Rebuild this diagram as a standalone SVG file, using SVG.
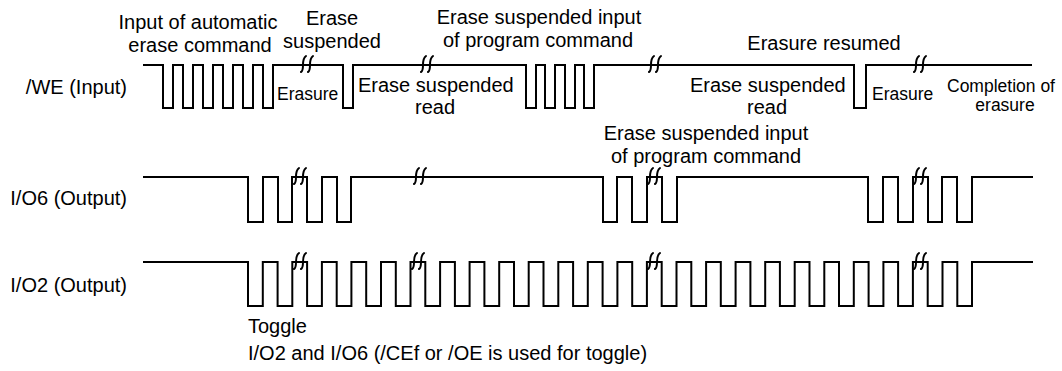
<svg xmlns="http://www.w3.org/2000/svg" xmlns:xlink="http://www.w3.org/1999/xlink" width="1062" height="371" viewBox="0 0 1062 371">
<style>
text{font-family:"Liberation Sans",Arial,sans-serif;fill:#000}
.b{font-size:20px}
.s{font-size:17.5px}
.m{text-anchor:middle}
.e{text-anchor:end}
.w{fill:none;stroke:#000;stroke-width:2;stroke-linejoin:miter}
.k{fill:none;stroke:#000;stroke-width:2;stroke-linecap:round}
</style>
<defs>
<g id="brk">
<path class="k" d="M-6,8 Q-4,7 -4,1 Q-4,-6 -1,-8"/>
<path class="k" d="M1,8 Q3,7 3,1 Q3,-6 6,-8"/>
</g>
</defs>
<rect width="1062" height="371" fill="#fff"/>
<g id="labels-left">
<text class="b e" x="127" y="94">/WE (Input)</text>
<text class="b e" x="127" y="205">I/O6 (Output)</text>
<text class="b e" x="127" y="292">I/O2 (Output)</text>
</g>
<g id="we-signal">
<path class="w" d="M143,65 H163 V108 H173 V65 H183 V108 H193 V65 H203 V108 H213 V65 H223 V108 H233 V65 H243 V108 H253 V65 H263 V108 H273 V65 H343 V108 H353 V65 H526 V108 H536 V65 H545 V108 H555 V65 H565 V108 H575 V65 H584 V108 H594 V65 H854 V108 H866 V65 H1032"/>
<use xlink:href="#brk" x="307" y="64"/>
<use xlink:href="#brk" x="427" y="64"/>
<use xlink:href="#brk" x="655" y="64"/>
<use xlink:href="#brk" x="920" y="64"/>
</g>
<g id="io6-signal">
<path class="w" d="M143,177 H248 V222 H263 V177 H278 V222 H292 V177 H307 V222 H322 V177 H337 V222 H351 V177 H603 V222 H617 V177 H632 V222 H647 V177 H662 V222 H677 V177 H868 V222 H883 V177 H898 V222 H913 V177 H928 V222 H942 V177 H957 V222 H972 V177 H1033"/>
<use xlink:href="#brk" x="300" y="176"/>
<use xlink:href="#brk" x="420" y="176"/>
<use xlink:href="#brk" x="654" y="176"/>
<use xlink:href="#brk" x="920" y="176"/>
</g>
<g id="io2-signal">
<path class="w" d="M143,262 H248 V306 H262.8 V262 H277.6 V306 H292.3 V262 H307.1 V306 H321.9 V262 H336.7 V306 H351.4 V262 H366.2 V306 H381 V262 H395.8 V306 H410.5 V262 H425.3 V306 H440.1 V262 H454.9 V306 H469.6 V262 H484.4 V306 H499.2 V262 H514 V306 H528.7 V262 H543.5 V306 H558.3 V262 H573.1 V306 H587.8 V262 H602.6 V306 H617.4 V262 H632.2 V306 H646.9 V262 H661.7 V306 H676.5 V262 H691.3 V306 H706.1 V262 H720.8 V306 H735.6 V262 H750.4 V306 H765.2 V262 H779.9 V306 H794.7 V262 H809.5 V306 H824.3 V262 H839 V306 H853.8 V262 H868.6 V306 H883.4 V262 H898.1 V306 H912.9 V262 H927.7 V306 H942.5 V262 H957.3 V306 H972 V262 H1033"/>
<use xlink:href="#brk" x="300" y="261"/>
<use xlink:href="#brk" x="418" y="261"/>
<use xlink:href="#brk" x="654" y="261"/>
<use xlink:href="#brk" x="920" y="261"/>
</g>
<g id="annotations">
<text class="b m" x="198" y="29">Input of automatic</text>
<text class="b m" x="200" y="52">erase command</text>
<text class="b m" x="332" y="25">Erase</text>
<text class="b m" x="332" y="48">suspended</text>
<text class="b m" x="539" y="24">Erase suspended input</text>
<text class="b m" x="538" y="47">of program command</text>
<text class="b m" x="824" y="50">Erasure resumed</text>
<text class="s" x="277" y="100">Erasure</text>
<text class="b" x="358" y="92">Erase suspended</text>
<text class="b m" x="435" y="114">read</text>
<text class="b" x="690" y="92">Erase suspended</text>
<text class="b m" x="767" y="114">read</text>
<text class="s" x="872" y="100">Erasure</text>
<text class="s m" x="1001" y="92">Completion of</text>
<text class="s m" x="1005" y="111">erasure</text>
<text class="b m" x="706" y="140">Erase suspended input</text>
<text class="b m" x="706" y="163">of program command</text>
<text class="b" x="248" y="333">Toggle</text>
<text class="b" x="248" y="360">I/O2 and I/O6 (/CEf or /OE is used for toggle)</text>
</g>
</svg>
